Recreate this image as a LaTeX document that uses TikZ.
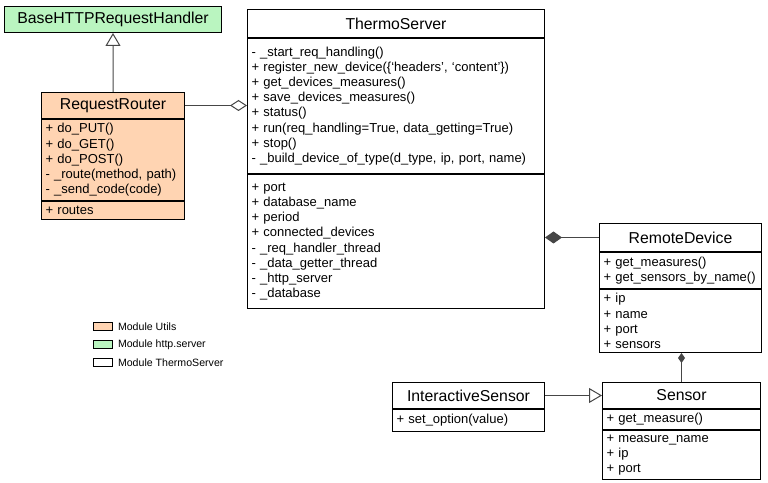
\documentclass[tikz,border=0pt]{standalone}
\usepackage{fontspec}
\usepackage{xcolor}
\setmainfont{Liberation Sans}
\usetikzlibrary{arrows.meta, positioning}

\definecolor{utilsfill}{RGB}{255,212,178}
\definecolor{httpfill}{RGB}{186,245,192}
\definecolor{linkgray}{RGB}{70,70,70}

\tikzset{
    cls/.style={draw=black, line width=1bp, inner sep=0pt, anchor=north west},
    clstitle/.style={cls, font=\fontsize{15.8bp}{18bp}\selectfont},
    clsbody/.style={cls, font=\fontsize{13bp}{15.2bp}\selectfont, align=left, inner xsep=4bp, inner ysep=0pt},
    legbox/.style={draw=black, line width=0.8bp, inner sep=0pt, anchor=north west, minimum width=19bp, minimum height=8bp},
    legtext/.style={font=\fontsize{10.6bp}{12bp}\selectfont, inner sep=0pt},
    inherit/.style={draw=linkgray, line width=1bp, -{Triangle[open, length=13bp, width=15bp]}},
    aggr/.style={draw=linkgray, line width=1bp, -{Diamond[open, length=17bp, width=11bp]}},
    comp/.style={draw=linkgray, line width=1bp, -{Diamond[length=17bp, width=12bp]}},
    compsmall/.style={draw=linkgray, line width=1bp, -{Diamond[length=10bp, width=7bp]}}
}

\begin{document}
\begin{tikzpicture}[x=1bp, y=-1bp]
            \useasboundingbox (0,0) rectangle (768,483);

            % Nodes
            \node [clstitle, fill=httpfill, minimum width=217bp, minimum height=26bp] (base) at (4,6) {BaseHTTPRequestHandler};

            \node [clstitle, fill=utilsfill, minimum width=143bp, minimum height=26bp] (rr) at (41,92) {RequestRouter};
            \node [clsbody, fill=utilsfill, text width=135bp, minimum height=81bp] (rrm) at (rr.south west) {+ do\_PUT()\\+ do\_GET()\\+ do\_POST()\\- \_route(method, path)\\- \_send\_code(code)};
            \node [clsbody, fill=utilsfill, text width=135bp, minimum height=18bp] (rra) at (rrm.south west) {+ routes};

            \node [clstitle, minimum width=297bp, minimum height=28bp] (ts) at (247,9) {ThermoServer};
            \node [clsbody, text width=289bp, minimum height=135bp] (tsm) at (ts.south west) {- \_start\_req\_handling()\\+ register\_new\_device(\{`headers', `content'\})\\+ get\_devices\_measures()\\+ save\_devices\_measures()\\+ status()\\+ run(req\_handling=True, data\_getting=True)\\+ stop()\\- \_build\_device\_of\_type(d\_type, ip, port, name)};
            \node [clsbody, text width=289bp, minimum height=134bp] (tsa) at (tsm.south west) {+ port\\+ database\_name\\+ period\\+ connected\_devices\\- \_req\_handler\_thread\\- \_data\_getter\_thread\\- \_http\_server\\- \_database};

            \node [clstitle, minimum width=162bp, minimum height=28bp] (rd) at (599,223) {RemoteDevice};
            \node [clsbody, text width=154bp, minimum height=36bp] (rdm) at (rd.south west) {+ get\_measures()\\+ get\_sensors\_by\_name()};
            \node [clsbody, text width=154bp, minimum height=63bp] (rda) at (rdm.south west) {+ ip\\+ name\\+ port\\+ sensors};

            \node [clstitle, minimum width=158bp, minimum height=26bp] (sn) at (602,382) {Sensor};
            \node [clsbody, text width=150bp, minimum height=20bp] (snm) at (sn.south west) {+ get\_measure()};
            \node [clsbody, text width=150bp, minimum height=49bp] (sna) at (snm.south west) {+ measure\_name\\+ ip\\+ port};

            \node [clstitle, minimum width=152bp, minimum height=26bp] (is) at (392,382) {InteractiveSensor};
            \node [clsbody, text width=144bp, minimum height=22bp] (ism) at (is.south west) {+ set\_option(value)};

            % Legend
            \node [legbox, fill=utilsfill] (lgutils) at (93,322) {};
            \node [legbox, fill=httpfill] (lghttp) at (93,340) {};
            \node [legbox] (lgthermo) at (93,358) {};
            \node [legtext, right=5bp of lgutils] {Module Utils};
            \node [legtext, right=5bp of lghttp] {Module http.server};
            \node [legtext, right=5bp of lgthermo] {Module ThermoServer};

            % Paths
            \draw [inherit] (rr.north) -- (base.south);
            \draw [aggr] (rr.east) -- (rr.east -| ts.west);
            \draw [comp] (rd.west) -- (rd.west -| tsa.east);
            \draw [compsmall] (sn.north) -- (sn.north |- rda.south);
            \draw [inherit] (is.east) -- (is.east -| sn.west);
        \end{tikzpicture}
\end{document}
